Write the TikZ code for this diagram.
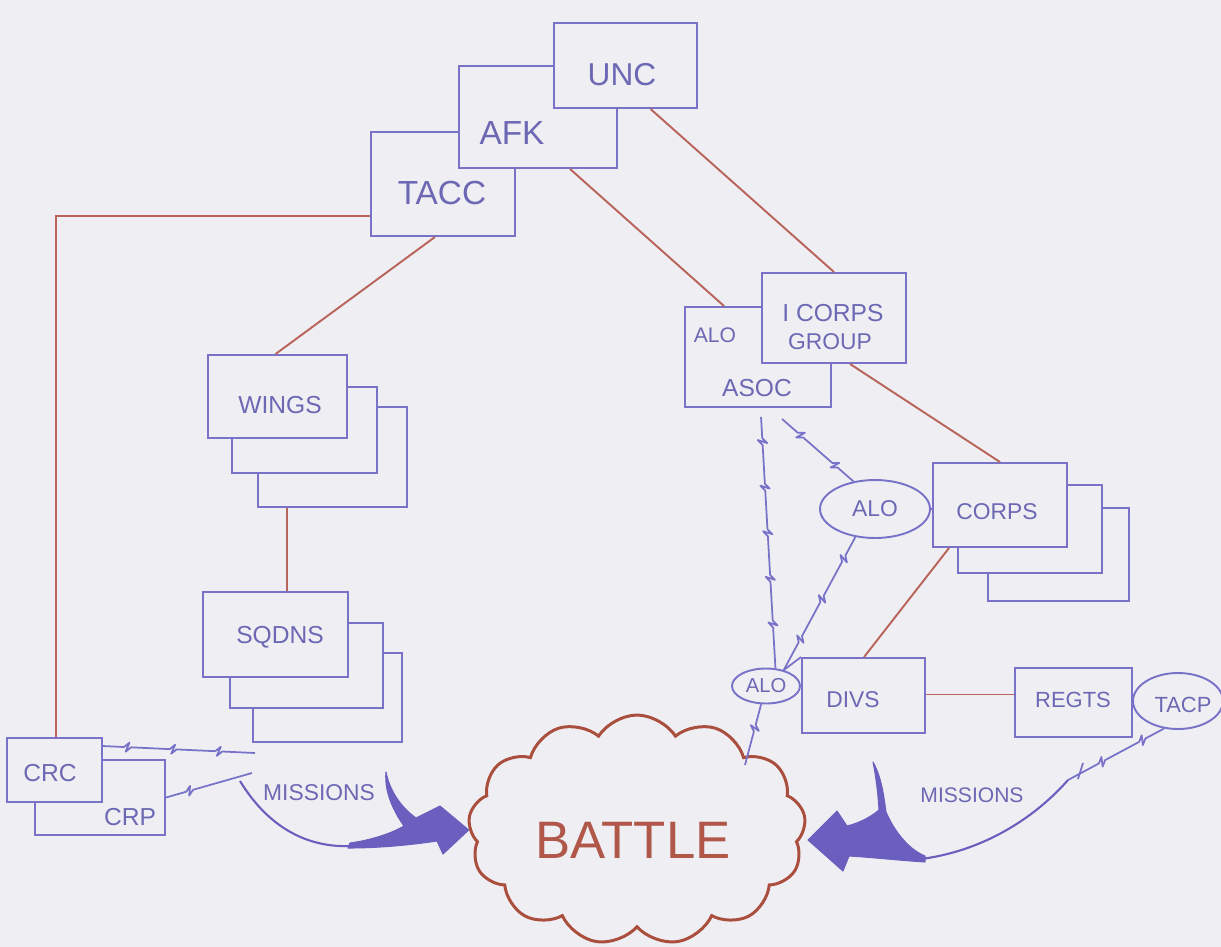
\documentclass[tikz,border=0pt]{standalone}
\usepackage{fontspec}
\setmainfont{Liberation Sans}
\usetikzlibrary{shapes.geometric,shapes.symbols,decorations,calc}
\definecolor{bg}{HTML}{EFEFF3}
\definecolor{boxc}{HTML}{7873C8}
\definecolor{txtc}{HTML}{6C68B4}
\definecolor{redl}{HTML}{B9645A}
\definecolor{cloudc}{HTML}{AA4E3E}
\definecolor{battc}{HTML}{B0574A}
\definecolor{arrc}{HTML}{6A5FBE}
\pgfdeclaredecoration{bolt}{go}{
 \state{go}[width=26pt]{
  \pgfpathlineto{\pgfqpoint{12pt}{0pt}}
  \pgfpathlineto{\pgfqpoint{15pt}{2.6pt}}
  \pgfpathlineto{\pgfqpoint{13pt}{-2.6pt}}
  \pgfpathlineto{\pgfqpoint{16pt}{0pt}}
  \pgfpathlineto{\pgfqpoint{26pt}{0pt}}
 }
 \state{final}{\pgfpathlineto{\pgfpointdecoratedpathlast}}
}
\newcommand\mkbox[5]{\node[box, minimum width={(#4-#2)*0.02cm}, minimum height={(#5-#3)*0.02cm}] (#1) at ({(#2+#4)/2},{(#3+#5)/2}) {};}
\tikzset{
 box/.style={draw=boxc, fill=bg, line width=1.1pt, inner sep=0pt},
 lbl/.style={text=txtc, inner sep=0pt},
 fs/.style={font=\fontsize{#1}{#1}\selectfont},
 rline/.style={draw=redl, line width=1.1pt},
 bline/.style={draw=boxc, line width=1pt, line join=round, decorate, decoration={bolt}},
 oval/.style={ellipse, draw=boxc, fill=bg, line width=1.1pt, inner sep=0pt},
 arrline/.style={draw=arrc, line width=1.2pt},
 arrhead/.style={fill=arrc, draw=arrc, line width=0.6pt, line join=round},
}
\begin{document}
\begin{tikzpicture}[x=0.02cm,y=-0.02cm]
\fill[bg] (0,0) rectangle (1221,947);
\useasboundingbox (0,0) rectangle (1221,947);

% top stack
\mkbox{tacc}{371}{132}{515}{236}
\mkbox{afk}{459}{66}{617}{168}
\mkbox{unc}{554}{23}{697}{108}
\node[lbl,fs=19] (tacct) at (442,193) {TACC};
\node[lbl,fs=19] (afkt) at (512,133) {AFK};
\node[lbl,fs=18] (unct) at (622,75) {UNC};

% ASOC / I Corps group
\mkbox{asoc}{685}{307}{831}{407}
\mkbox{icg}{762}{273}{906}{363}
\node[lbl,fs=12] (asocalo) at (715,335) {ALO};
\node[lbl,fs=14] (asoct) at (757,388) {ASOC};
\node[lbl,fs=14] (icgt1) at (833,313) {I CORPS};
\node[lbl,fs=13] (icgt2) at (830,342) {GROUP};

% wings
\mkbox{w3}{258}{407}{407}{507}
\mkbox{w2}{232}{387}{377}{473}
\mkbox{w1}{208}{355}{347}{438}
\node[lbl,fs=14] (wt) at (280,405) {WINGS};

% sqdns
\mkbox{s3}{253}{653}{402}{742}
\mkbox{s2}{230}{623}{383}{708}
\mkbox{s1}{203}{592}{348}{677}
\node[lbl,fs=14] (st) at (280,637) {SQDNS};

% corps
\mkbox{c3}{988}{508}{1129}{601}
\mkbox{c2}{958}{485}{1102}{573}
\mkbox{c1}{933}{463}{1067}{547}
\node[lbl,fs=13] (ct) at (997,512) {CORPS};

% divs, regts
\mkbox{divs}{802}{658}{925}{733}
\mkbox{regts}{1015}{668}{1132}{737}
\node[lbl,fs=13] (dt) at (853,700) {DIVS};
\node[lbl,fs=12.5] (rt) at (1073,700) {REGTS};

% CRP / CRC
\mkbox{crp}{35}{760}{165}{835}
\mkbox{crc}{7}{738}{102}{802}
\node[lbl,fs=14] (crct) at (50,773) {CRC};
\node[lbl,fs=14] (crpt) at (130,817) {CRP};

% ovals
\node[oval, minimum width=2.2cm, minimum height=1.16cm] (aloM) at (875,509) {};
\node[lbl,fs=13] at (aloM) {ALO};
\node[oval, minimum width=1.36cm, minimum height=0.7cm] (aloS) at (766,686) {};
\node[lbl,fs=11.5] at (aloS) {ALO};
\node[oval, minimum width=1.8cm, minimum height=1.12cm] (tacp) at (1178,701) {};
\node[lbl,fs=12.5] at (1183,705) {TACP};

% battle cloud
\node[cloud, cloud puffs=13, cloud puff arc=115, cloud ignores aspect, draw=cloudc, fill=bg, line width=1.7pt, minimum width=6.75cm, minimum height=4.6cm] (battle) at (637,830) {};
\node[text=battc, inner sep=0pt, fs=30] (battlet) at (633,840) {BATTLE};

% red connectors
\draw[rline] ($(tacc.south west)+(0,-21)$) -| ($(crc.north west)+(50,0)$);
\draw[rline] ($(tacc.south)+(-8,0)$) -- ($(w1.north)+(-2,0)$);
\draw[rline] ($(w3.south west)+(30,0)$) -- ($(s1.north west)+(85,0)$);
\draw[rline] ($(afk.south)+(32,0)$) -- ($(asoc.north west)+(40,0)$);
\draw[rline] ($(unc.south)+(25,0)$) -- (icg.north);
\draw[rline] ($(icg.south)+(16,0)$) -- (c1.north);
\draw[rline] ($(c1.south west)+(17,0)$) -- ($(divs.north west)+(63,0)$);
\draw[rline] ($(divs.east)+(0,-1)$) -- ($(divs.east -| regts.west)+(0,-1)$);

% lightning links
\draw[bline] ($(asoc.south west)+(77,9)$) -- (aloS.62);
\draw[bline] ($(asoc.south west)+(98,11)$) -- (aloM.128);
\draw[bline] (aloM.235) -- (aloS.42);
\draw[boxc, line width=1pt] (aloS.42) -- (divs.north west);
\draw[bline] (aloS.255) -- ($(battle.center)+(108,-65)$);
\draw[draw=boxc, line width=1pt] (aloM.east) -- (c1.west |- aloM.east);
\coordinate (lA) at (255,753);
\coordinate (lB) at (252,773);
\draw[bline] ($(crc.north east)+(0,9)$) -- (lA);
\draw[bline] (crp.east) -- (lB);
\coordinate (rA) at (1068,780);
\draw[bline] (tacp.243) -- (rA);
\draw[draw=boxc, line width=1pt] (1083,763) -- (1078,779);

% missions arrows
\draw[arrline] (240,781) .. controls (270,830) and (310,848) .. (352,846);
\path[arrhead] (386,772) .. controls (390,792) and (402,808) .. (416,818) -- (440,806) -- (battle.west) -- (443,854) -- (437,841) .. controls (410,845) and (380,848) .. (348,848) -- (350,843) .. controls (372,840) and (392,833) .. (404,826) .. controls (394,812) and (384,792) .. cycle;
\node[lbl,fs=13] (m1) at (319,793) {MISSIONS};

\draw[arrline] (rA) .. controls (1040,812) and (990,850) .. (921,859);
\path[arrhead] (873,762) .. controls (882,778) and (884,798) .. (886,812) .. controls (895,833) and (910,850) .. (925,856) -- (925,862) .. controls (895,860) and (868,857) .. (849,856) -- (843,871) -- (808,840) -- (837,811) -- (847,826) .. controls (860,823) and (872,816) .. (879,810) .. controls (878,793) and (876,777) .. cycle;
\node[lbl,fs=12] (m2) at (972,795) {MISSIONS};
\end{tikzpicture}
\end{document}
